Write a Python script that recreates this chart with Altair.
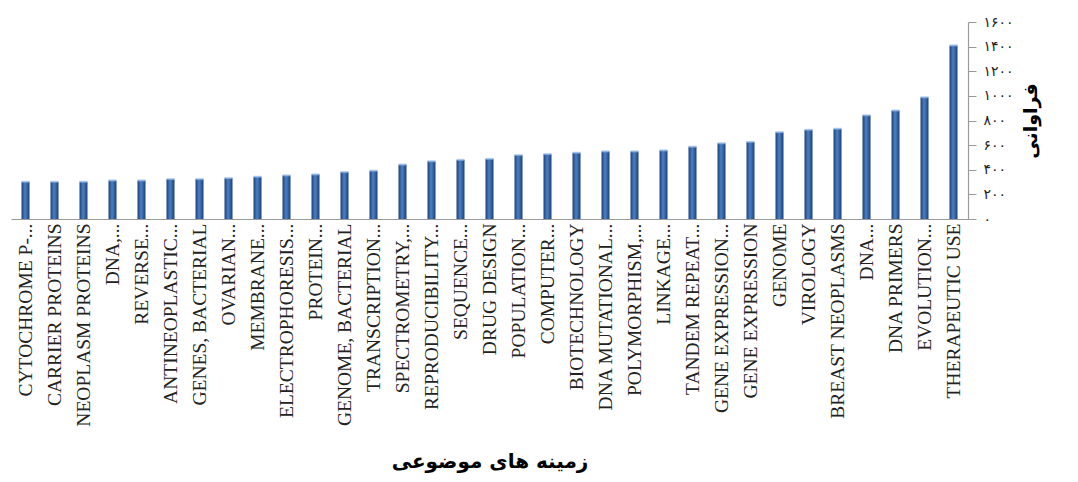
import altair as alt
import pandas as pd

categories = [
    "CYTOCHROME P-...", "CARRIER PROTEINS", "NEOPLASM PROTEINS", "DNA,...", "REVERSE...",
    "ANTINEOPLASTIC...", "GENES, BACTERIAL", "OVARIAN...", "MEMBRANE...", "ELECTROPHORESIS...",
    "PROTEIN...", "GENOME, BACTERIAL", "TRANSCRIPTION...", "SPECTROMETRY,...", "REPRODUCIBILITY...",
    "SEQUENCE...", "DRUG DESIGN", "POPULATION...", "COMPUTER...", "BIOTECHNOLOGY",
    "DNA MUTATIONAL...", "POLYMORPHISM,...", "LINKAGE...", "TANDEM REPEAT...", "GENE EXPRESSION...",
    "GENE EXPRESSION", "GENOME", "VIROLOGY", "BREAST NEOPLASMS", "DNA...",
    "DNA PRIMERS", "EVOLUTION...", "THERAPEUTIC USE",
]
values = [
    302, 302, 302, 313, 313,
    324, 324, 332, 343, 354,
    362, 381, 392, 442, 469,
    480, 488, 519, 527, 538,
    549, 549, 557, 587, 615,
    626, 705, 724, 733, 842,
    881, 988, 1410,
]
y_ticks = [0, 200, 400, 600, 800, 1000, 1200, 1400, 1600]
y_tick_labels = ["۰", "۲۰۰", "۴۰۰", "۶۰۰", "۸۰۰", "۱۰۰۰", "۱۲۰۰", "۱۴۰۰", "۱۶۰۰"]
x_title = "زمینه های موضوعی"
y_title = "فراوانی"

df = pd.DataFrame({"category": categories, "value": values})

ticks_js = "[" + ",".join(str(t) for t in y_ticks) + "]"
labels_js = "[" + ",".join("'" + s + "'" for s in y_tick_labels) + "]"
label_expr = labels_js + "[indexof(" + ticks_js + ", datum.value)]"

x_enc = alt.X(
    "category:N",
    sort=None,
    scale=alt.Scale(paddingInner=0, paddingOuter=0),
    axis=alt.Axis(
        title=x_title,
        labelAngle=-90,
        labelFont="Liberation Serif",
        labelFontSize=19.5,
        labelColor="#222222",
        labelPadding=4,
        labelLimit=400,
        labelOverlap=False,
        ticks=False,
        domainColor="#9a9a9a",
        domainWidth=1.2,
        titleFont="DejaVu Sans",
        titleFontWeight="bold",
        titleFontSize=20,
        titleColor="#000000",
        titlePadding=32,
    ),
)
y_enc = alt.Y(
    "value:Q",
    scale=alt.Scale(domain=[0, 1600], nice=False),
    axis=alt.Axis(
        orient="right",
        title=y_title,
        values=y_ticks,
        labelExpr=label_expr,
        labelOverlap=False,
        labelFont="DejaVu Sans",
        labelFontSize=14,
        labelColor="#222222",
        labelPadding=7,
        tickSize=8,
        tickColor="#9a9a9a",
        domainColor="#9a9a9a",
        domainWidth=1.2,
        grid=False,
        titleFont="DejaVu Sans",
        titleFontWeight="bold",
        titleFontSize=19,
        titleColor="#000000",
        titleAngle=270,
        titleBaseline="middle",
        titlePadding=17,
    ),
)

grad = alt.Gradient(
    gradient="linear",
    x1=0, x2=1, y1=0, y2=0,
    stops=[
        alt.GradientStop(offset=0, color="#1d3f72"),
        alt.GradientStop(offset=0.45, color="#4a80c8"),
        alt.GradientStop(offset=0.6, color="#3c6fb4"),
        alt.GradientStop(offset=1, color="#1d3f72"),
    ],
)

bars = alt.Chart(df).mark_bar(size=8, color=grad).encode(x=x_enc, y=y_enc)
caps = alt.Chart(df).mark_tick(size=8, thickness=2, color="#8fb6e8").encode(x=x_enc, y=y_enc)

chart = (
    alt.layer(bars, caps)
    .properties(
        width=957,
        height=197,
        padding={"left": 3, "top": 7, "right": 5, "bottom": 2},
        background="white",
    )
    .configure_view(stroke=None)
    .configure_axis(labelOverlap=False)
)

chart.save("out.html", embed_options={"renderer": "svg", "actions": False})
